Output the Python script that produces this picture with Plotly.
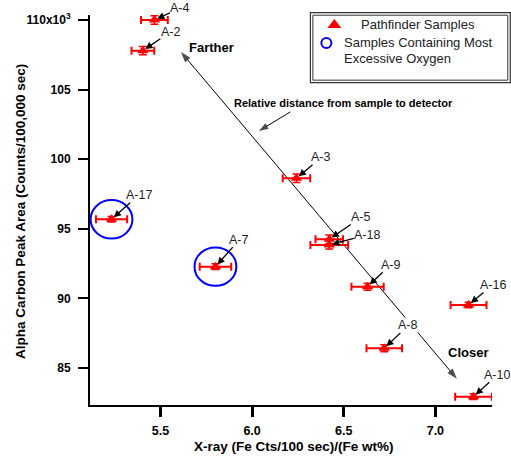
import plotly.graph_objects as go

# ---- data ----
labels = ["A-4", "A-2", "A-17", "A-7", "A-3", "A-5", "A-18", "A-9", "A-16", "A-8", "A-10"]
xray = [5.467, 5.404, 5.233, 5.800, 6.242, 6.421, 6.421, 6.630, 7.181, 6.721, 7.208]
carbon = [110.0, 107.8, 95.68, 92.28, 98.63, 94.25, 93.84, 90.84, 89.53, 86.41, 82.94]
xray_err = [0.073, 0.062, 0.085, 0.086, 0.075, 0.075, 0.103, 0.088, 0.098, 0.097, 0.100]
carbon_err = [0.3, 0.3, 0.2, 0.2, 0.3, 0.3, 0.3, 0.25, 0.2, 0.25, 0.2]
# label offsets (pixels) for the pointer annotations
label_dx = [26, 28, 27, 24, 25, 32, 38, 23, 24, 24, 24]
label_dy = [-12, -19, -24, -27, -21, -22, -10, -22, -20, -23, -22]
oxygen_samples = ["A-17", "A-7"]

x_ticks = [5.5, 6.0, 6.5, 7.0]
x_tick_text = ["5.5", "6.0", "6.5", "7.0"]
y_ticks = [85, 90, 95, 100, 105, 110]
y_tick_text = ["85", "90", "95", "100", "105", "110x10<sup>3</sup>"]

FONT = "Liberation Sans, Arial, sans-serif"
RED = "#ff0000"
BLUE = "#0000ff"

# plot area in pixels and axis ranges
L, R, T, B = 89.5, 491.7, 15.0, 405.3
XR = [5.1155, 7.309]
YR = [82.34, 110.36]
def px(x): return (x - L) / (R - L)
def py(y): return (B - y) / (B - T)
def dx_(p): return XR[0] + (p - L) / (R - L) * (XR[1] - XR[0])
def dy_(p): return YR[0] + (B - p) / (B - T) * (YR[1] - YR[0])

fig = go.Figure()

# helper arrow (line with arrowhead marker), given in pixel coords
def add_arrow(x0, y0, x1, y1, size):
    fig.add_trace(go.Scatter(
        x=[dx_(x0), dx_(x1)], y=[dy_(y0), dy_(y1)], mode="lines+markers",
        line=dict(color="black", width=1),
        marker=dict(symbol="arrow", size=[0, size], color="black", angleref="previous",
                    line=dict(width=0)),
        showlegend=False, hoverinfo="skip", cliponaxis=False))

# long double-headed arrow (Farther <-> Closer)
mid = ((177 + 460) / 2, (48 + 383) / 2)
add_arrow(mid[0], mid[1], 180.5, 52.0, 11)
add_arrow(mid[0], mid[1], 456.5, 379.0, 11)
# relative distance pointer
add_arrow(290, 112, 258.5, 131.0, 10)

fig.add_trace(go.Scatter(
    x=xray, y=carbon, mode="markers",
    marker=dict(symbol="triangle-up", size=10, color=RED),
    error_x=dict(type="data", array=xray_err, color=RED, thickness=2, width=4),
    error_y=dict(type="data", array=carbon_err, color=RED, thickness=1.5, width=4),
    showlegend=False, cliponaxis=False,
))

# legend symbols (drawn at legend-box pixel positions)
fig.add_trace(go.Scatter(
    x=[dx_(334)], y=[dy_(25)], mode="markers",
    marker=dict(symbol="triangle-up", size=12, color=RED),
    showlegend=False, cliponaxis=False, hoverinfo="skip"))
fig.add_trace(go.Scatter(
    x=[dx_(326)], y=[dy_(43)], mode="markers",
    marker=dict(symbol="circle-open", size=10, color=BLUE, line=dict(width=2, color=BLUE)),
    showlegend=False, cliponaxis=False, hoverinfo="skip"))

shapes = []
# ellipses around oxygen samples
for name in oxygen_samples:
    i = labels.index(name)
    cx, cy = xray[i], carbon[i]
    shapes.append(dict(type="circle", xref="x", yref="y",
                       x0=cx - 0.114, x1=cx + 0.114, y0=cy - 1.38, y1=cy + 1.38,
                       line=dict(color=BLUE, width=2)))

# legend box (double border) in paper coordinates
shapes.append(dict(type="rect", xref="paper", yref="paper",
                   x0=px(310), x1=px(510), y0=py(82.7), y1=py(12.7),
                   line=dict(color="#333", width=1.2), fillcolor="white", layer="below"))
shapes.append(dict(type="rect", xref="paper", yref="paper",
                   x0=px(312.5), x1=px(507.5), y0=py(80.2), y1=py(15.2),
                   line=dict(color="#333", width=1)))

annotations = []
def note(x, y, text, size, color="black", xanchor="center", angle=0):
    annotations.append(dict(x=px(x), y=py(y), xref="paper", yref="paper", showarrow=False,
                            xanchor=xanchor, yanchor="middle", textangle=angle, text=text,
                            font=dict(family=FONT, size=size, color=color)))

note(343.5, 103, "<b>Relative distance from sample to detector</b>", 11)
note(211, 48, "<b>Farther</b>", 13)
note(468, 353, "<b>Closer</b>", 13)

# point labels
for lab, xv, yv, ddx, ddy in zip(labels, xray, carbon, label_dx, label_dy):
    annotations.append(dict(x=xv, y=yv, xref="x", yref="y", text=lab, ax=ddx, ay=ddy,
                            showarrow=True, arrowhead=2, arrowsize=1.1, arrowwidth=1.3,
                            arrowcolor="black", standoff=3, borderpad=0,
                            bgcolor="white" if lab == "A-8" else None,
                            font=dict(family=FONT, size=12.5, color="#222")))

# legend texts
note(359, 25, "Pathfinder Samples", 13, "#222", "left")
note(341.5, 43, "Samples Containing Most", 13, "#222", "left")
note(341.5, 59, "Excessive Oxygen", 13, "#222", "left")

# axis titles (as annotations to control their position)
note(20.5, 212, "<b>Alpha Carbon Peak Area (Counts/100,000 sec)</b>", 13.5, angle=-90)
note(294, 447, "<b>X-ray (Fe Cts/100 sec)/(Fe wt%)</b>", 13.5)

fig.update_layout(
    width=511, height=458,
    margin=dict(l=L, r=511 - R, t=T, b=458 - B),
    paper_bgcolor="white", plot_bgcolor="white",
    font=dict(family=FONT, color="black"),
    shapes=shapes, annotations=annotations,
    xaxis=dict(range=XR, tickvals=x_ticks, ticktext=x_tick_text,
               showgrid=False, zeroline=False, showline=True, linecolor="black", linewidth=2,
               ticks="outside", ticklen=10, tickwidth=2.5, tickcolor="black",
               ticklabelstandoff=3,
               tickfont=dict(family=FONT, size=12.5, color="black", weight="bold")),
    yaxis=dict(range=YR, tickvals=y_ticks, ticktext=y_tick_text,
               showgrid=False, zeroline=False, showline=True, linecolor="black", linewidth=2,
               ticks="outside", ticklen=10, tickwidth=2, tickcolor="black",
               ticklabelstandoff=5,
               tickfont=dict(family=FONT, size=12, color="black", weight="bold")),
)

fig.write_html("out.html")
